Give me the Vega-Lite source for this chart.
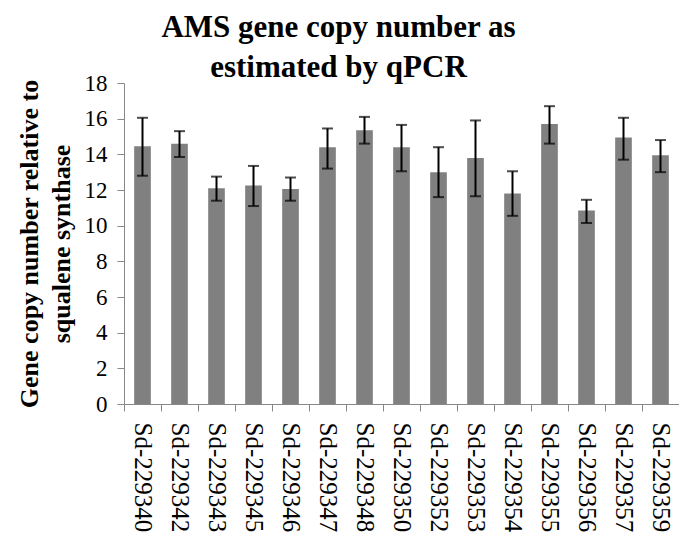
{
  "$schema": "https://vega.github.io/schema/vega-lite/v6.json",
  "width": 555,
  "height": 321,
  "autosize": {"type": "none"},
  "padding": {"left": 124, "top": 83, "right": 0, "bottom": 139},
  "background": "white",
  "title": {
    "text": ["AMS gene copy number as", "estimated by qPCR"],
    "font": "Liberation Serif",
    "fontSize": 31,
    "fontWeight": "bold",
    "color": "black",
    "lineHeight": 40,
    "anchor": "middle",
    "dx": -63,
    "offset": -12
  },
  "data": {
    "values": [
      {"sample": "Sd-229340", "value": 14.45, "lo": 12.8, "hi": 16.05},
      {"sample": "Sd-229342", "value": 14.6, "lo": 13.85, "hi": 15.3},
      {"sample": "Sd-229343", "value": 12.1, "lo": 11.4, "hi": 12.75},
      {"sample": "Sd-229345", "value": 12.25, "lo": 11.1, "hi": 13.35},
      {"sample": "Sd-229346", "value": 12.05, "lo": 11.4, "hi": 12.7},
      {"sample": "Sd-229347", "value": 14.4, "lo": 13.2, "hi": 15.45},
      {"sample": "Sd-229348", "value": 15.35, "lo": 14.6, "hi": 16.1},
      {"sample": "Sd-229350", "value": 14.4, "lo": 13.05, "hi": 15.65},
      {"sample": "Sd-229352", "value": 13.0, "lo": 11.6, "hi": 14.4},
      {"sample": "Sd-229353", "value": 13.8, "lo": 11.65, "hi": 15.9},
      {"sample": "Sd-229354", "value": 11.8, "lo": 10.55, "hi": 13.05},
      {"sample": "Sd-229355", "value": 15.7, "lo": 14.6, "hi": 16.7},
      {"sample": "Sd-229356", "value": 10.85, "lo": 10.15, "hi": 11.45},
      {"sample": "Sd-229357", "value": 14.95, "lo": 13.7, "hi": 16.05},
      {"sample": "Sd-229359", "value": 13.95, "lo": 13.0, "hi": 14.8}
    ]
  },
  "encoding": {
    "x": {
      "field": "sample",
      "type": "nominal",
      "sort": null,
      "scale": {"paddingInner": 0.55, "paddingOuter": 0.275},
      "axis": {
        "title": null,
        "labelAngle": 90,
        "labelAlign": "left",
        "labelBaseline": "middle",
        "labelPadding": 11,
        "labelOverlap": false,
        "labelFont": "Liberation Serif, Tinos, Times New Roman, DejaVu Serif, serif",
        "labelFontSize": 25,
        "labelColor": "black",
        "bandPosition": -0.611
      }
    }
  },
  "layer": [
    {
      "mark": {"type": "bar", "color": "#808080"},
      "encoding": {
        "y": {
          "field": "value",
          "type": "quantitative",
          "scale": {"domain": [0, 18], "nice": false},
          "axis": {
            "title": ["Gene copy number relative to", "squalene synthase"],
            "titleFont": "Liberation Serif",
            "titleFontSize": 26,
            "titleFontWeight": "bold",
            "titleColor": "black",
            "titleLineHeight": 32,
            "titlePadding": 10,
            "tickCount": 9,
            "labelOverlap": false,
            "labelFont": "Liberation Serif, Tinos, Times New Roman, DejaVu Serif, serif",
            "labelFontSize": 23,
            "labelColor": "black",
            "labelPadding": 10,
            "grid": false
          }
        }
      }
    },
    {
      "mark": {"type": "rule", "color": "black", "strokeWidth": 2},
      "encoding": {
        "y": {"field": "lo", "type": "quantitative"},
        "y2": {"field": "hi"}
      }
    },
    {
      "mark": {"type": "tick", "color": "black", "thickness": 2, "size": 11},
      "encoding": {"y": {"field": "lo", "type": "quantitative"}}
    },
    {
      "mark": {"type": "tick", "color": "black", "thickness": 2, "size": 11},
      "encoding": {"y": {"field": "hi", "type": "quantitative"}}
    }
  ],
  "config": {
    "view": {"stroke": null},
    "axis": {
      "domainColor": "#888888",
      "tickColor": "#888888",
      "tickSize": 7
    }
  }
}
